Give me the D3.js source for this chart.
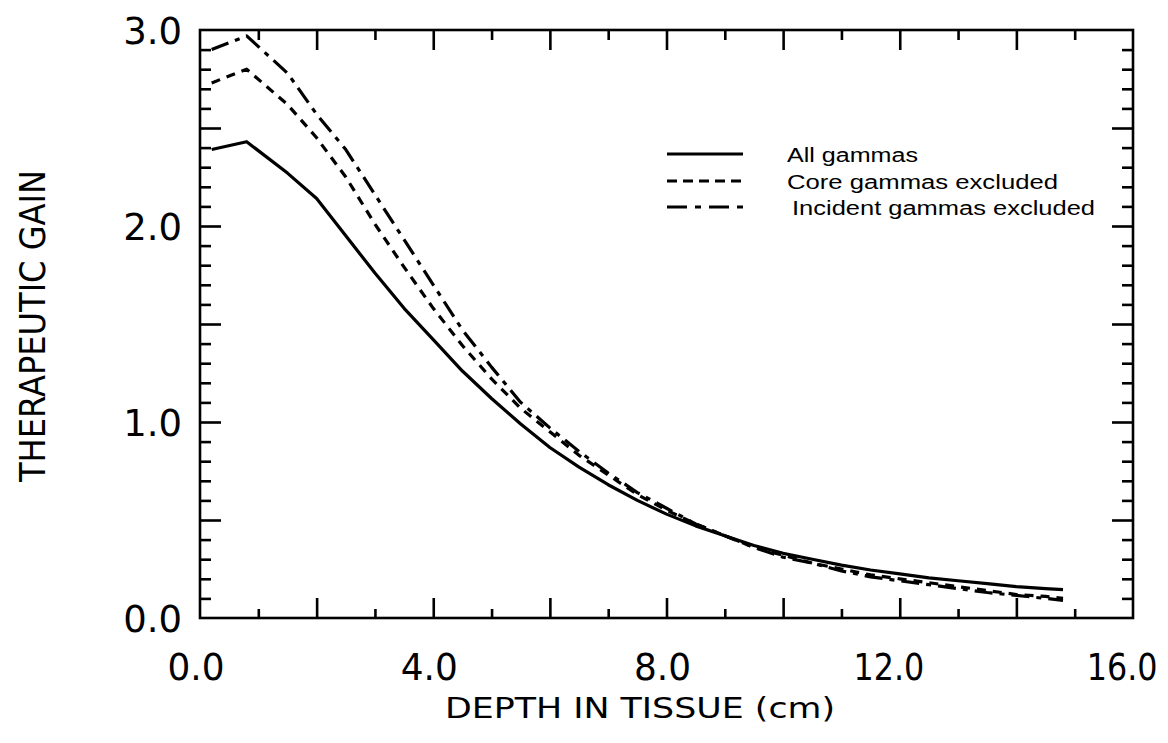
<!DOCTYPE html>
<html>
<head>
<meta charset="utf-8">
<script src="https://cdn.jsdelivr.net/npm/d3@7"></script>
<style>
  html, body { margin: 0; padding: 0; background: #fff; }
  svg { display: block; }
</style>
</head>
<body>
<svg id="chart" width="1168" height="743"></svg>
<script>
// Data
const depth = [0.2, 0.8, 1.5, 2.0, 2.5, 3.0, 3.5, 4.0, 4.5, 5.0, 5.5, 6.0, 6.5, 7.0, 7.5,
               8.0, 8.5, 9.0, 9.5, 10.0, 10.5, 11.0, 11.5, 12.0, 12.5, 13.0, 13.5, 14.0, 14.5, 14.8];
const allGammas = [2.39, 2.43, 2.27, 2.14, 1.95, 1.76, 1.58, 1.42, 1.26, 1.12, 0.99, 0.87, 0.77, 0.68, 0.60,
                   0.53, 0.47, 0.42, 0.37, 0.33, 0.30, 0.27, 0.245, 0.225, 0.205, 0.19, 0.175, 0.16, 0.15, 0.145];
const coreExcluded = [2.73, 2.80, 2.62, 2.45, 2.25, 2.01, 1.79, 1.58, 1.39, 1.22, 1.07, 0.95, 0.83, 0.73, 0.63,
                      0.55, 0.48, 0.42, 0.36, 0.32, 0.28, 0.25, 0.22, 0.20, 0.18, 0.16, 0.14, 0.12, 0.11, 0.10];
const incidentExcluded = [2.90, 2.97, 2.78, 2.57, 2.39, 2.16, 1.93, 1.70, 1.47, 1.28, 1.10, 0.97, 0.85, 0.74, 0.64,
                          0.56, 0.48, 0.42, 0.36, 0.31, 0.28, 0.24, 0.21, 0.19, 0.17, 0.15, 0.13, 0.115, 0.10, 0.09];
const seriesNames = ['All gammas', 'Core gammas excluded', 'Incident gammas excluded'];
const xTickLabels = [0, 4, 8, 12, 16];
const yTickLabels = [0, 1, 2, 3];
const xTitle = 'DEPTH IN TISSUE (cm)';
const yTitle = 'THERAPEUTIC GAIN';

const svg = d3.select('#chart');
const W = 1168, H = 743;
const margin = { top: 30, right: 35, bottom: 125, left: 200 };
const width = W - margin.left - margin.right;
const height = H - margin.top - margin.bottom;
const g = svg.append('g').attr('transform', `translate(${margin.left},${margin.top})`);

const x = d3.scaleLinear().domain([0, 16]).range([0, width]);
const y = d3.scaleLinear().domain([0, 3]).range([height, 0]);

const plotFont = 'DejaVu Sans, sans-serif';

// Tick marks, all pointing inward: x every 1.0 (long at even), y every 0.1 (long every 0.5)
const xMinor = d3.range(1, 16, 2);
const xMajor = d3.range(2, 16, 2);
const yMinor = d3.range(1, 30).filter(i => i % 5 !== 0).map(i => i / 10);
const yMajor = d3.range(5, 30, 5).map(i => i / 10);

function tickAxis(axisFn, values, size, transform) {
    const a = g.append('g')
        .attr('transform', transform || null)
        .call(axisFn.tickValues(values).tickSize(-size).tickFormat(() => ''));
    a.select('.domain').remove();
    a.selectAll('line').attr('stroke', '#000').attr('stroke-width', 2.6);
    return a;
}
tickAxis(d3.axisBottom(x), xMinor, 9, `translate(0,${height})`);
tickAxis(d3.axisBottom(x), xMajor, 20, `translate(0,${height})`);
tickAxis(d3.axisTop(x), xMinor, 10);
tickAxis(d3.axisTop(x), xMajor, 20);
tickAxis(d3.axisLeft(y), yMinor, 11);
tickAxis(d3.axisLeft(y), yMajor, 21);
tickAxis(d3.axisRight(y), yMinor, 11, `translate(${width},0)`);
tickAxis(d3.axisRight(y), yMajor, 21, `translate(${width},0)`);

// Frame
g.append('rect')
    .attr('x', 0).attr('y', 0)
    .attr('width', width).attr('height', height)
    .attr('fill', 'none')
    .attr('stroke', '#000')
    .attr('stroke-width', 2.6);

// Y tick labels
const yLab = g.append('g')
    .call(d3.axisLeft(y).tickValues(yTickLabels).tickSize(0).tickPadding(18).tickFormat(d3.format('.1f')));
yLab.select('.domain').remove();
yLab.selectAll('text')
    .attr('font-family', plotFont)
    .attr('font-size', 37)
    .attr('fill', '#000')
    .attr('dy', 13.5);

// X tick labels (right edge a little past the tick, as in the plotter output)
const xLab = g.append('g')
    .attr('transform', `translate(0,${height})`)
    .call(d3.axisBottom(x).tickValues(xTickLabels).tickSize(0).tickFormat(d3.format('.1f')));
xLab.select('.domain').remove();
xLab.selectAll('text')
    .attr('font-family', plotFont)
    .attr('font-size', 37)
    .attr('fill', '#000')
    .attr('text-anchor', 'end')
    .attr('x', 0)
    .attr('y', 0)
    .attr('dy', 0)
    .attr('transform', d => `translate(24,62) scale(${d >= 10 ? 0.86 : 0.97},1)`);

// Axis titles
svg.append('text')
    .attr('x', 445).attr('y', 718)
    .attr('font-family', plotFont)
    .attr('font-size', 29)
    .attr('fill', '#000')
    .attr('textLength', 390)
    .attr('lengthAdjust', 'spacingAndGlyphs')
    .text(xTitle);

svg.append('text')
    .attr('transform', 'translate(45,326) rotate(-90)')
    .attr('text-anchor', 'middle')
    .attr('font-family', plotFont)
    .attr('font-size', 36)
    .attr('fill', '#000')
    .attr('textLength', 312)
    .attr('lengthAdjust', 'spacingAndGlyphs')
    .text(yTitle);

// Curves
const series = [
    { name: seriesNames[0], values: allGammas, dash: null },
    { name: seriesNames[1], values: coreExcluded, dash: '9,7' },
    { name: seriesNames[2], values: incidentExcluded, dash: '18,7,5,7' }
];

const line = d3.line()
    .x(d => x(d[0]))
    .y(d => y(d[1]));

series.forEach(s => {
    g.append('path')
        .datum(depth.map((d, i) => [d, s.values[i]]))
        .attr('fill', 'none')
        .attr('stroke', '#000')
        .attr('stroke-width', 3.2)
        .attr('stroke-linejoin', 'round')
        .attr('stroke-dasharray', s.dash)
        .attr('d', line);
});

// Legend
const legendRows = [154, 181, 207];
const legendTextX = [787, 787, 792];
const legendTextW = [131, 271, 303];
const legendDash = [null, '10,6', '20,8,6,8'];
const legend = svg.append('g');
series.forEach((s, i) => {
    legend.append('line')
        .attr('x1', 667).attr('x2', 743)
        .attr('y1', legendRows[i]).attr('y2', legendRows[i])
        .attr('stroke', '#000')
        .attr('stroke-width', 2.8)
        .attr('stroke-dasharray', legendDash[i]);
    legend.append('text')
        .attr('x', legendTextX[i])
        .attr('y', legendRows[i] + 8)
        .attr('font-family', 'Liberation Sans, Arial, sans-serif')
        .attr('font-size', 20)
        .attr('fill', '#000')
        .attr('textLength', legendTextW[i])
        .attr('lengthAdjust', 'spacingAndGlyphs')
        .text(s.name);
});
</script>
</body>
</html>
